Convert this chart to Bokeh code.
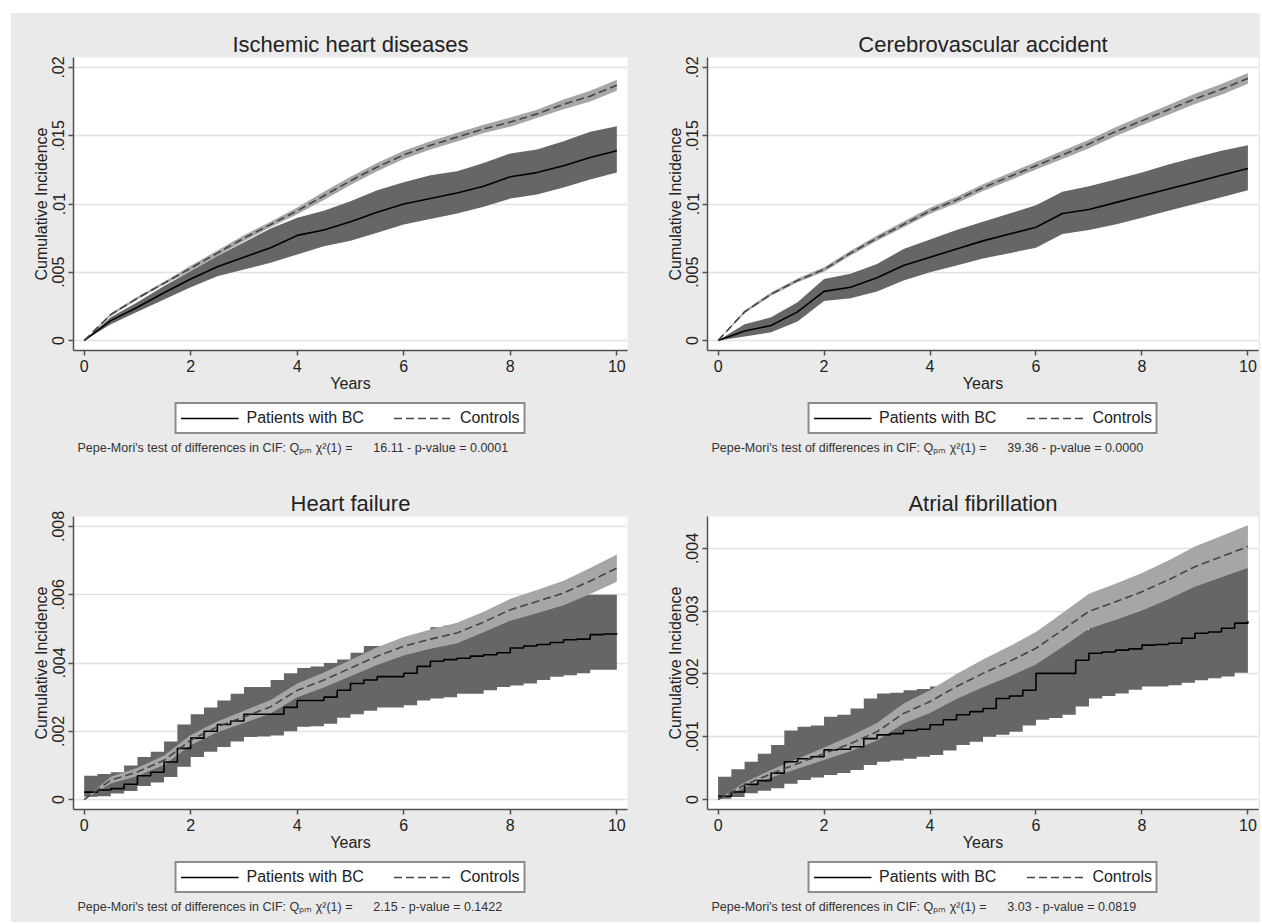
from bokeh.plotting import figure
from bokeh.models import (Range1d, FixedTicker, CustomJSTickFormatter, Legend, LegendItem, Label)
from bokeh.layouts import column, row
from bokeh.embed import file_html
from bokeh.resources import INLINE

# ---------------- data ----------------
years = [0, 0.5, 1, 1.5, 2, 2.5, 3, 3.5, 4, 4.5, 5, 5.5, 6, 6.5, 7, 7.5, 8, 8.5, 9, 9.5, 10]
quarters = [0, .25, .5, .75, 1, 1.25, 1.5, 1.75, 2, 2.25, 2.5, 2.75, 3, 3.25, 3.5, 3.75, 4, 4.25, 4.5, 4.75,
            5, 5.25, 5.5, 5.75, 6, 6.25, 6.5, 6.75, 7, 7.25, 7.5, 7.75, 8, 8.25, 8.5, 8.75, 9, 9.25, 9.5, 9.75, 10]

# Ischemic heart diseases
ihd_ctrl = [0, .0019, .0031, .0042, .0053, .0064, .0075, .0085, .0095, .0106, .0117, .0127, .0136, .0143, .0149, .0155, .0160, .0166, .0173, .0179, .0187]
ihd_ctrl_lo = [0, .0018, .0030, .0041, .00512, .0062, .00728, .0083, .00925, .0103, .0114, .0124, .0133, .0140, .01458, .0152, .01566, .0163, .01694, .0175, .0183]
ihd_ctrl_hi = [0, .0020, .0032, .0043, .00548, .0066, .00772, .0087, .00975, .0109, .0120, .0130, .0139, .0146, .01522, .0158, .01634, .0169, .01766, .0183, .0191]
ihd_pat = [0, .00146, .00244, .0035, .00451, .0054, .0061, .0068, .0077, .0081, .0087, .0094, .0100, .0104, .0108, .0113, .0120, .0123, .0128, .0134, .0139]
ihd_pat_hi = [0, .0017, .0028, .0040, .0051, .0062, .0072, .0082, .0090, .0095, .0102, .0110, .0116, .0121, .0124, .0130, .0137, .0140, .0146, .0153, .0157]
ihd_pat_lo = [0, .0012, .0021, .0030, .0039, .0047, .0052, .0057, .0063, .0069, .0073, .0079, .0085, .0089, .0093, .0098, .0104, .0107, .0112, .0118, .0123]

# Cerebrovascular accident
cva_ctrl = [0, .0021, .0034, .0044, .0052, .0064, .0075, .0085, .0095, .0103, .0112, .0120, .0128, .0136, .0144, .0153, .0161, .0169, .0177, .0184, .0192]
cva_ctrl_lo = [0, .0020, .00328, .00426, .00504, .00622, .0073, .00829, .00928, .01006, .01095, .01173, .01252, .0133, .01409, .01497, .01576, .01654, .01733, .01801, .0188]
cva_ctrl_hi = [0, .0022, .00352, .00454, .00536, .00658, .0077, .00871, .00972, .01054, .01145, .01227, .01308, .0139, .01471, .01563, .01644, .01726, .01807, .01879, .0196]
cva_pat = [0, .0007, .0011, .0021, .0036, .0039, .0046, .0055, .0061, .0067, .0073, .0078, .0083, .0093, .0096, .0101, .0106, .0111, .0116, .0121, .0126]
cva_pat_hi = [0, .0012, .0017, .0028, .0045, .0049, .0056, .0067, .0074, .0081, .0087, .0093, .0099, .0109, .0113, .0118, .0123, .0129, .0134, .0139, .0143]
cva_pat_lo = [0, .0003, .0006, .0014, .0029, .0031, .0036, .0044, .0050, .0055, .0060, .0064, .0068, .0078, .0081, .0085, .0090, .0095, .0100, .0105, .0110]

# Heart failure (controls on half-years, patients as step levels on quarter-years)
hf_ctrl = [0, .00057, .00081, .00115, .00174, .00213, .00242, .00272, .0032, .0035, .00385, .0042, .00449, .0047, .00488, .0052, .00556, .0058, .00605, .0064, .00678]
hf_ctrl_lo = [0, .00047, .00069, .00101, .00159, .00197, .00224, .00252, .0030, .00328, .00361, .00394, .00422, .00442, .00458, .0049, .00524, .00546, .00569, .00602, .00638]
hf_ctrl_hi = [0, .00067, .00093, .00129, .00189, .00229, .0026, .00292, .0034, .00372, .00409, .00446, .00476, .00498, .00518, .0055, .00588, .00614, .00641, .00678, .00718]
hf_pat = [.00022, .00028, .00032, .00045, .0007, .0008, .0011, .0015, .0018, .0020, .0022, .0023, .0025, .0025, .0025, .0027, .0029, .0029, .0030, .0032,
          .0034, .0035, .0036, .0036, .0037, .0039, .00405, .0041, .00414, .0042, .00424, .0043, .00444, .0045, .00454, .0046, .00468, .0047, .00483, .00485, .00487]
hf_pat_hi = [.0007, .00075, .0008, .0010, .00125, .0014, .0017, .0022, .0025, .0027, .0029, .0031, .0033, .0033, .0035, .0037, .00385, .0039, .0040, .0041,
             .0043, .0045, .0045, .0046, .0046, .0048, .00505, .0051, .00515, .0052, .0053, .0055, .0056, .0057, .0058, .0059, .00595, .0060, .0060, .0060, .0060]
hf_pat_lo = [.00008, .0001, .00018, .00025, .0004, .0005, .00066, .00096, .00125, .0014, .00154, .0017, .00183, .00185, .00188, .0020, .00213, .00215, .00222, .0024,
             .0025, .0026, .0027, .0027, .00276, .0029, .00296, .0030, .0031, .0031, .0032, .0033, .00334, .0034, .0035, .0036, .00364, .0037, .0038, .0038, .00388]

# Atrial fibrillation
af_ctrl = [0, .00023, .00041, .00057, .00073, .00089, .00108, .00137, .00156, .0018, .00201, .0022, .00241, .0027, .0030, .00315, .00331, .0035, .00371, .00387, .00403]
af_ctrl_lo = [0, .00019, .00035, .00049, .00063, .00077, .00094, .00121, .00138, .0016, .00179, .00196, .00215, .00243, .00272, .00286, .00301, .00319, .00339, .00354, .00369]
af_ctrl_hi = [0, .00027, .00047, .00065, .00083, .00101, .00122, .00153, .00174, .0020, .00223, .00244, .00267, .00297, .00328, .00344, .00361, .00381, .00403, .0042, .00437]
af_pat = [.00005, .00012, .00024, .0003, .00042, .0006, .00065, .00068, .00079, .0008, .00084, .00097, .00103, .00105, .0011, .00112, .00119, .00127, .00135, .0014,
          .00145, .00161, .00165, .00174, .00201, .00201, .00201, .00222, .00233, .00235, .00238, .0024, .00246, .00247, .00249, .00257, .00265, .00267, .00273, .00281, .00284]
af_pat_hi = [.00036, .00048, .0006, .00073, .00087, .0011, .00116, .00118, .00132, .00135, .00145, .00161, .00169, .0017, .00174, .00176, .0018, .00185, .00193, .00198,
             .00204, .0021, .00215, .00222, .00233, .00245, .00258, .0027, .00286, .00298, .00308, .00318, .00329, .00337, .00344, .0035, .00358, .00362, .00366, .0037, .00374]
af_pat_lo = [.00001, .00004, .0001, .00014, .00018, .00025, .00031, .00035, .00039, .00042, .00047, .00055, .0006, .00062, .00065, .00068, .00071, .00078, .00087, .00092,
             .0010, .00103, .00108, .00118, .00127, .0013, .00135, .00148, .00161, .00165, .00169, .00175, .0018, .0018, .00182, .00186, .0019, .00193, .00196, .00202, .00209]

titles = ["Ischemic heart diseases", "Cerebrovascular accident", "Heart failure", "Atrial fibrillation"]
x_ticks = [0, 2, 4, 6, 8, 10]
y_ticks_top = [0, .005, .01, .015, .02]
y_ticks_hf = [0, .002, .004, .006, .008]
y_ticks_af = [0, .001, .002, .003, .004]
chi2 = ["16.11", "39.36", "2.15", "3.03"]
pvals = ["0.0001", "0.0000", "0.1422", "0.0819"]
legend_labels = ["Patients with BC", "Controls"]

# ---------------- styling ----------------
FONT = "Liberation Sans"
BG = "#eaeaea"
PAT_BAND = "#666666"
CTRL_BAND = "#a6a6a6"
TXT = "#222222"
PAT_LINE = dict(line_color="black", line_width=1.6)
CTRL_LINE = dict(line_color="#454545", line_width=1.6, line_dash="8 4")


def make_plot(title, px, ctrl, ctrl_lo, ctrl_hi, pat, pat_lo, pat_hi, yticks, yr, stepped, w, border_r):
    p = figure(width=w, height=385,
               min_border_left=62, min_border_right=border_r, min_border_top=44, min_border_bottom=48,
               x_range=Range1d(-0.2, 10.2), y_range=Range1d(*yr),
               output_backend="svg", toolbar_location=None, tools="")
    p.background_fill_color = "white"
    p.border_fill_color = BG
    p.outline_line_color = None

    p.title.text = title
    p.title.align = "center"
    p.title.text_font = FONT
    p.title.text_font_size = "22px"
    p.title.text_font_style = "normal"
    p.title.text_color = TXT
    p.title.standoff = 2

    if stepped:
        p.varea_step(x=px, y1=pat_lo, y2=pat_hi, step_mode="after", fill_color=PAT_BAND)
    else:
        p.varea(x=px, y1=pat_lo, y2=pat_hi, fill_color=PAT_BAND)
    p.varea(x=years, y1=ctrl_lo, y2=ctrl_hi, fill_color=CTRL_BAND)
    if stepped:
        p.step(x=px, y=pat, mode="after", **PAT_LINE)
    else:
        p.line(x=px, y=pat, **PAT_LINE)
    p.line(x=years, y=ctrl, **CTRL_LINE)

    p.xaxis.ticker = FixedTicker(ticks=x_ticks)
    p.yaxis.ticker = FixedTicker(ticks=yticks)
    p.yaxis.formatter = CustomJSTickFormatter(
        code="const s = tick.toString(); return s.startsWith('0.') ? s.slice(1) : s;")
    p.yaxis.major_label_orientation = "vertical"
    for ax in (p.xaxis[0], p.yaxis[0]):
        ax.axis_line_color = "#505050"
        ax.axis_line_width = 1.5
        ax.major_tick_line_color = "#505050"
        ax.major_tick_line_width = 1.5
        ax.major_tick_out = 5
        ax.major_tick_in = 0
        ax.minor_tick_line_color = None
        ax.major_label_text_font = FONT
        ax.major_label_text_font_size = "16px"
        ax.major_label_text_color = TXT
        ax.axis_label_text_font = FONT
        ax.axis_label_text_font_size = "16px"
        ax.axis_label_text_font_style = "normal"
        ax.axis_label_text_color = TXT
        ax.axis_label_standoff = 0
        ax.major_label_standoff = 4
    p.xaxis.axis_label = "Years"
    p.yaxis.axis_label = "Cumulative Incidence"

    p.xgrid.grid_line_color = None
    p.ygrid.grid_line_color = "#e2e2e2"
    p.ygrid.grid_line_width = 1.5
    return p


def make_footer(chi, pv, w, h, border_r):
    fw = w - 62 - border_r
    f = figure(width=w, height=h, min_border_left=62, min_border_right=border_r,
               min_border_top=0, min_border_bottom=0,
               x_range=Range1d(0, fw), y_range=Range1d(0, h),
               output_backend="svg", toolbar_location=None, tools="")
    f.background_fill_color = BG
    f.border_fill_color = BG
    f.outline_line_color = None
    f.axis.visible = False
    f.grid.visible = False
    # off-screen samples so the legend shows the line styles
    r1 = f.line(x=[-50, -40], y=[-50, -50], **PAT_LINE)
    r2 = f.line(x=[-50, -40], y=[-50, -50], **CTRL_LINE)
    legend = Legend(items=[LegendItem(label=legend_labels[0], renderers=[r1]),
                           LegendItem(label=legend_labels[1], renderers=[r2])],
                    orientation="horizontal", location="top_center",
                    label_text_font=FONT, label_text_font_size="16px", label_text_color=TXT,
                    glyph_width=58, glyph_height=20, label_height=20, label_standoff=8,
                    spacing=30, padding=4, margin=4,
                    border_line_color="#1a1a1a", border_line_width=2,
                    background_fill_color="white", background_fill_alpha=1.0)
    f.add_layout(legend, "center")
    note = Label(x=4, y=h - 49, text="Pepe-Mori's test of differences in CIF: Q\u209a\u2098 \u03c7\u00b2(1) =\u00a0\u00a0\u00a0\u00a0\u00a0 "
                                  + chi + " - p-value = " + pv,
                 text_font=FONT, text_font_size="12.5px", text_color="#333333",
                 text_baseline="middle", text_align="left")
    f.add_layout(note)
    return f


# widths: left column 634 (62 + 554 + 18), right column 615 (62 + 551 + 2)
p1 = make_plot(titles[0], years, ihd_ctrl, ihd_ctrl_lo, ihd_ctrl_hi, ihd_pat, ihd_pat_lo, ihd_pat_hi,
               y_ticks_top, (-0.00073, 0.02073), False, 634, 18)
p2 = make_plot(titles[1], years, cva_ctrl, cva_ctrl_lo, cva_ctrl_hi, cva_pat, cva_pat_lo, cva_pat_hi,
               y_ticks_top, (-0.00073, 0.02073), False, 615, 2)
p3 = make_plot(titles[2], quarters, hf_ctrl, hf_ctrl_lo, hf_ctrl_hi, hf_pat, hf_pat_lo, hf_pat_hi,
               y_ticks_hf, (-0.00029, 0.00829), True, 634, 18)
p4 = make_plot(titles[3], quarters, af_ctrl, af_ctrl_lo, af_ctrl_hi, af_pat, af_pat_lo, af_pat_hi,
               y_ticks_af, (-0.00016, 0.00451), True, 615, 2)

f1 = make_footer(chi2[0], pvals[0], 634, 74, 18)
f2 = make_footer(chi2[1], pvals[1], 615, 74, 2)
f3 = make_footer(chi2[2], pvals[2], 634, 65, 18)
f4 = make_footer(chi2[3], pvals[3], 615, 65, 2)

bgstyle = {"background-color": BG}
layout = column(row(column(p1, f1, spacing=0, styles=bgstyle), column(p2, f2, spacing=0, styles=bgstyle),
                    spacing=0, styles=bgstyle),
                row(column(p3, f3, spacing=0, styles=bgstyle), column(p4, f4, spacing=0, styles=bgstyle),
                    spacing=0, styles=bgstyle),
                spacing=0, margin=(13, 0, 0, 11), styles=bgstyle)

open("out.html", "w").write(file_html(layout, INLINE))
